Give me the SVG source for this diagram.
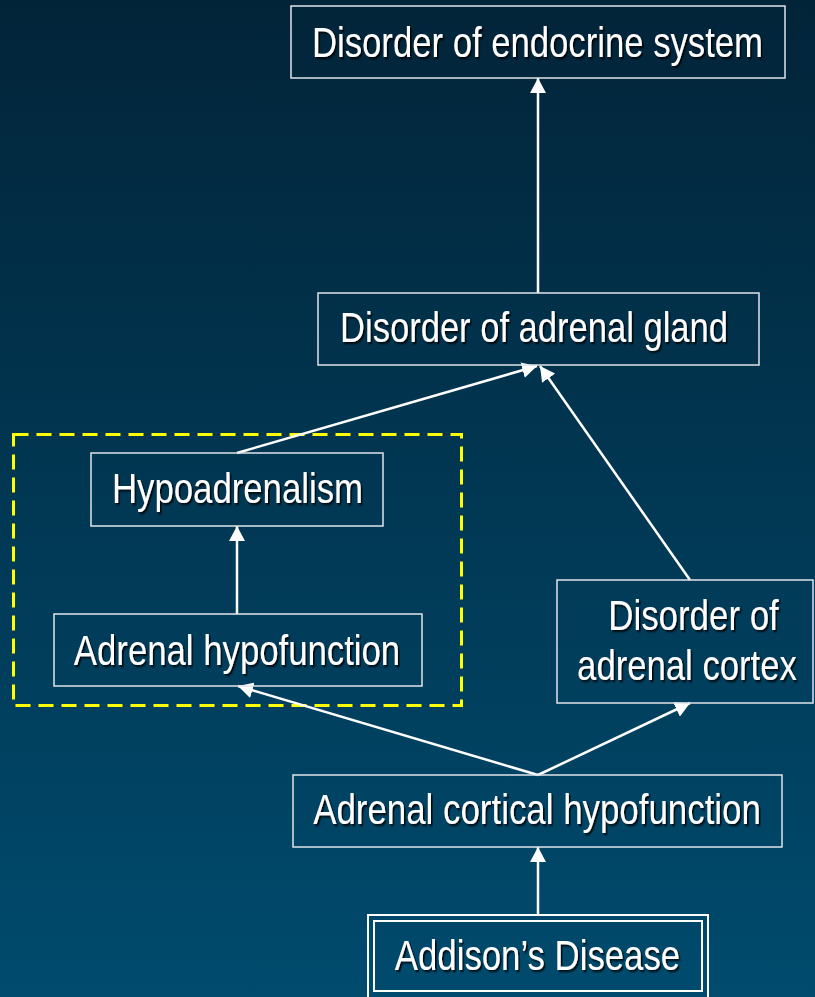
<svg xmlns="http://www.w3.org/2000/svg" width="815" height="997" viewBox="0 0 815 997">
  <defs>
    <linearGradient id="bg" x1="0" y1="0" x2="0" y2="1">
      <stop offset="0" stop-color="#022439"/>
      <stop offset="1" stop-color="#004b6e"/>
    </linearGradient>
    <filter id="shadow" x="-10%" y="-30%" width="120%" height="160%">
      <feDropShadow dx="2" dy="2" stdDeviation="0.8" flood-color="#000" flood-opacity="0.85"/>
    </filter>
    <marker id="arrow" viewBox="0 0 15 16" refX="15" refY="8" markerWidth="15" markerHeight="16" markerUnits="userSpaceOnUse" orient="auto">
      <path d="M0,0 L15,8 L0,16 Z" fill="#fff"/>
    </marker>
  </defs>
  <style>
    .box { fill: none; stroke: #dfe5ea; stroke-width: 1.5; }
    .dbl { fill: none; stroke: #fff; stroke-width: 2; }
    .lbl { font-family: "Liberation Sans", Arial, sans-serif; font-size: 42px; fill: #fff; text-anchor: middle; filter: url(#shadow); }
    .edge { stroke: #fff; stroke-width: 2.5; fill: none; marker-end: url(#arrow); }
    .group { fill: none; stroke: #ffff00; stroke-width: 3; stroke-dasharray: 15 8; }
  </style>

  <rect x="0" y="0" width="815" height="997" fill="url(#bg)"/>

  <!-- dashed grouping frame -->
  <rect class="group" x="13.5" y="434.5" width="448" height="271"/>

  <g id="connectors">
    <line class="edge" x1="538" y1="293" x2="538" y2="78"/>
    <line class="edge" x1="237" y1="453" x2="537" y2="366"/>
    <line class="edge" x1="690" y1="580" x2="540" y2="366"/>
    <line class="edge" x1="237" y1="614" x2="237" y2="526"/>
    <line class="edge" x1="538" y1="775" x2="238" y2="686"/>
    <line class="edge" x1="538" y1="775" x2="690" y2="703"/>
    <line class="edge" x1="538" y1="914" x2="538" y2="847"/>
  </g>

  <!-- labels use a horizontally condensed sans -->
  <g id="endocrine">
    <rect class="box" x="291" y="6" width="494" height="72"/>
    <text class="lbl" transform="translate(537.5,57) scale(0.82,1)" textLength="550" lengthAdjust="spacingAndGlyphs">Disorder of endocrine system</text>
  </g>

  <g id="adrenal-gland">
    <rect class="box" x="318" y="293" width="441" height="72"/>
    <text class="lbl" transform="translate(534,342) scale(0.82,1)" textLength="473" lengthAdjust="spacingAndGlyphs">Disorder of adrenal gland</text>
  </g>

  <g id="hypoadrenalism">
    <rect class="box" x="91" y="453" width="292" height="73"/>
    <text class="lbl" transform="translate(237.5,503) scale(0.82,1)" textLength="306" lengthAdjust="spacingAndGlyphs">Hypoadrenalism</text>
  </g>

  <g id="adrenal-hypofunction">
    <rect class="box" x="54" y="614" width="368" height="72"/>
    <text class="lbl" transform="translate(237,665) scale(0.82,1)" textLength="398" lengthAdjust="spacingAndGlyphs">Adrenal hypofunction</text>
  </g>

  <g id="adrenal-cortex">
    <rect class="box" x="557" y="580" width="256" height="123"/>
    <text class="lbl" transform="translate(693.5,630) scale(0.82,1)" textLength="208" lengthAdjust="spacingAndGlyphs">Disorder of</text>
    <text class="lbl" transform="translate(687,680) scale(0.82,1)" textLength="268" lengthAdjust="spacingAndGlyphs">adrenal cortex</text>
  </g>

  <g id="cortical-hypofunction">
    <rect class="box" x="293" y="775" width="489" height="72"/>
    <text class="lbl" transform="translate(537,824) scale(0.82,1)" textLength="546" lengthAdjust="spacingAndGlyphs">Adrenal cortical hypofunction</text>
  </g>

  <g id="addison">
    <rect class="dbl" x="368" y="915" width="340" height="90"/>
    <rect class="dbl" x="374" y="921" width="328" height="70"/>
    <text class="lbl" transform="translate(537.5,970) scale(0.82,1)" textLength="348" lengthAdjust="spacingAndGlyphs">Addison’s Disease</text>
  </g>
</svg>
